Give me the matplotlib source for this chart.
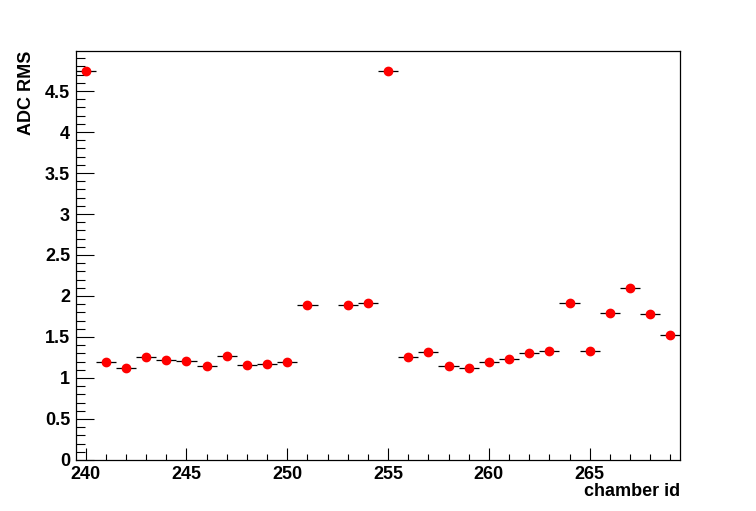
import matplotlib
matplotlib.use("Agg")
import matplotlib.pyplot as plt
from matplotlib.ticker import MultipleLocator

# chamber ids and ADC RMS values (chamber 252 has no entry)
chamber_id = [240, 241, 242, 243, 244, 245, 246, 247, 248, 249, 250, 251,
              253, 254, 255, 256, 257, 258, 259, 260, 261, 262, 263, 264,
              265, 266, 267, 268, 269]
adc_rms = [4.74, 1.20, 1.12, 1.26, 1.22, 1.21, 1.14, 1.27, 1.16, 1.17, 1.20, 1.89,
           1.89, 1.91, 4.75, 1.25, 1.32, 1.15, 1.12, 1.19, 1.23, 1.31, 1.33, 1.91,
           1.33, 1.79, 2.10, 1.78, 1.52]
bin_half_width = [0.5] * len(chamber_id)

plt.rcParams['font.family'] = ['Liberation Sans', 'DejaVu Sans']
plt.rcParams['font.weight'] = 'bold'

fig = plt.figure(figsize=(7.56, 5.11), dpi=100)
ax = fig.add_axes([0.1, 0.1, 0.8, 0.8])

ax.errorbar(chamber_id, adc_rms, xerr=bin_half_width, fmt='o', color='red',
            markersize=6, ecolor='black', elinewidth=0.9, capsize=0, zorder=3)

ax.set_xlim(239.5, 269.5)
ax.set_ylim(0, 1.05 * max(adc_rms))

ax.xaxis.set_major_locator(MultipleLocator(5))
ax.xaxis.set_minor_locator(MultipleLocator(1))
ax.yaxis.set_major_locator(MultipleLocator(0.5))
ax.yaxis.set_minor_locator(MultipleLocator(0.1))

ax.tick_params(axis='both', which='both', direction='in', width=0.8,
               labelsize=13, top=False, right=False)
ax.tick_params(axis='x', which='major', length=8.6, pad=4.5)
ax.tick_params(axis='x', which='minor', length=4.3)
ax.tick_params(axis='y', which='major', length=12.7, pad=4)
ax.tick_params(axis='y', which='minor', length=6.5)

ax.yaxis.set_major_formatter(plt.FuncFormatter(lambda v, p: f"{v:g}"))

for s in ax.spines.values():
    s.set_linewidth(0.9)

ax.set_xlabel('chamber id', fontsize=13, fontweight='bold', loc='right')
ax.set_ylabel('ADC RMS', fontsize=13, fontweight='bold', loc='top')
ax.xaxis.set_label_coords(1.0, -0.057)
ax.yaxis.set_label_coords(-0.067, 1.0)

fig.savefig('out.png', dpi=100)
